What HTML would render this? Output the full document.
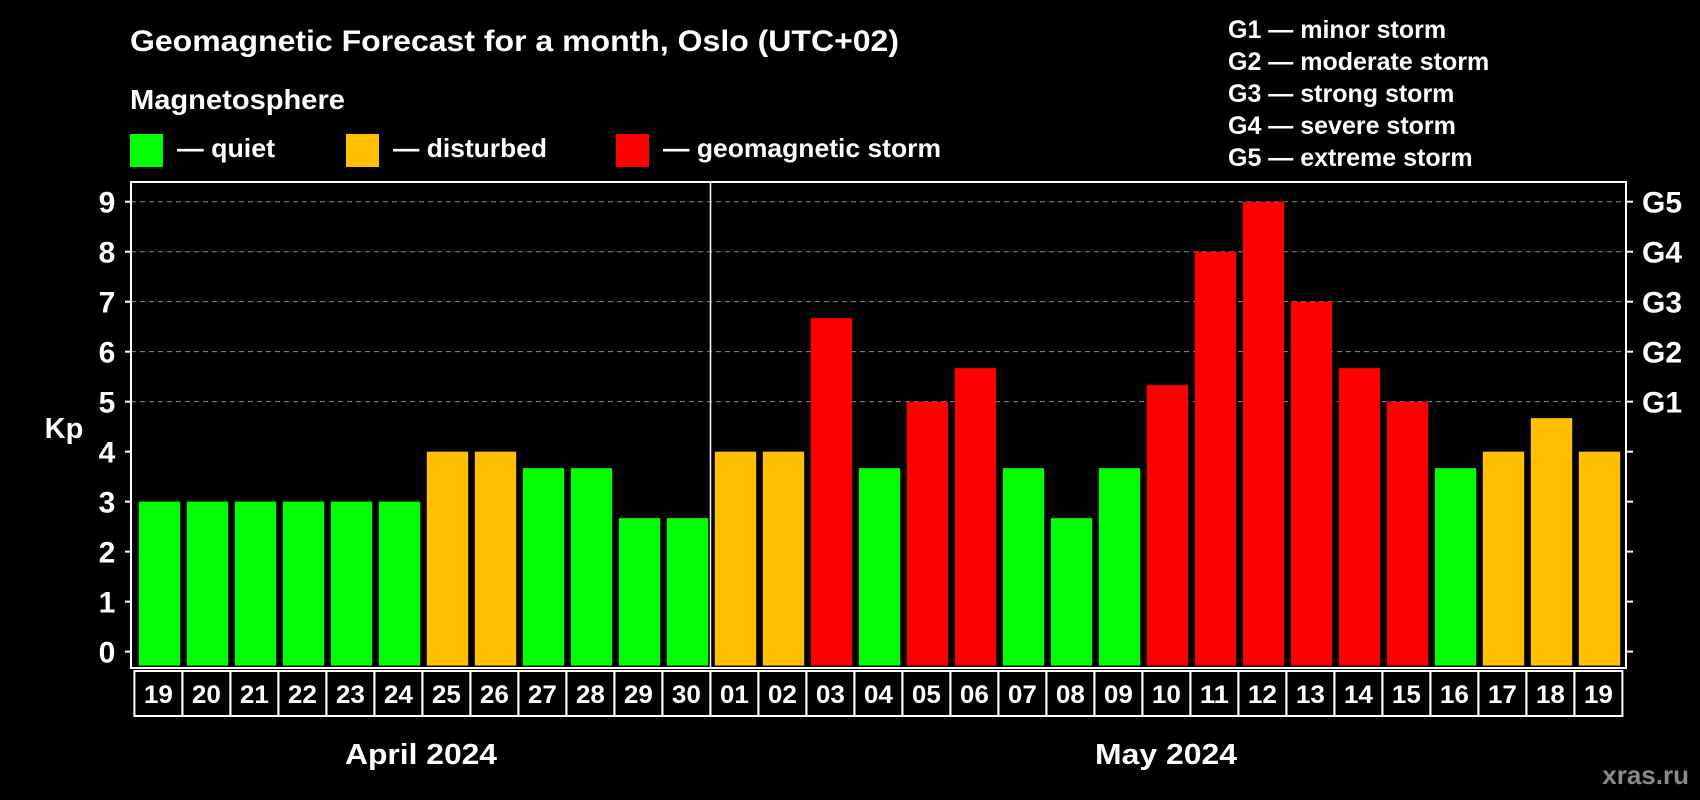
<!DOCTYPE html>
<html><head><meta charset="utf-8">
<style>
html,body{margin:0;padding:0;background:#000;}
svg{display:block;font-family:"Liberation Sans",sans-serif;font-weight:bold;}
</style></head>
<body>
<svg id="chart" width="1700" height="800" viewBox="0 0 1700 800" xmlns="http://www.w3.org/2000/svg">
<rect x="0" y="0" width="1700" height="800" fill="#000"/>
<text x="130" y="51" font-size="30" fill="#fff" textLength="769" lengthAdjust="spacingAndGlyphs">Geomagnetic Forecast for a month, Oslo (UTC+02)</text>
<text x="130" y="109" font-size="28" fill="#fff" textLength="215" lengthAdjust="spacingAndGlyphs">Magnetosphere</text>
<g>
<rect x="130" y="134" width="33" height="33" fill="#00ff00"/>
<text x="177" y="157" font-size="26" fill="#fff" textLength="98" lengthAdjust="spacingAndGlyphs">— quiet</text>
</g>
<g>
<rect x="346" y="134" width="33" height="33" fill="#ffc000"/>
<text x="393" y="157" font-size="26" fill="#fff" textLength="154" lengthAdjust="spacingAndGlyphs">— disturbed</text>
</g>
<g>
<rect x="616" y="134" width="33" height="33" fill="#ff0000"/>
<text x="663" y="157" font-size="26" fill="#fff" textLength="278" lengthAdjust="spacingAndGlyphs">— geomagnetic storm</text>
</g>
<g font-size="25" fill="#fff">
<text x="1228" y="38">G1 — minor storm</text>
<text x="1228" y="70">G2 — moderate storm</text>
<text x="1228" y="102">G3 — strong storm</text>
<text x="1228" y="134">G4 — severe storm</text>
<text x="1228" y="166">G5 — extreme storm</text>
</g>
<text x="64" y="438" font-size="29" fill="#fff" text-anchor="middle">Kp</text>
<text x="421" y="764" font-size="29" fill="#fff" text-anchor="middle" textLength="152" lengthAdjust="spacingAndGlyphs">April 2024</text>
<text x="1166" y="764" font-size="29" fill="#fff" text-anchor="middle" textLength="142" lengthAdjust="spacingAndGlyphs">May 2024</text>
<text x="1689" y="784" font-size="26" fill="#8a8a8a" text-anchor="end">xras.ru</text>
<g id="grid"></g>
<g id="bars"></g>
<g id="axes"></g>
</svg>
<script>
const days = ["19","20","21","22","23","24","25","26","27","28","29","30","01","02","03","04","05","06","07","08","09","10","11","12","13","14","15","16","17","18","19"];
const kpValues = [3,3,3,3,3,3,4,4,3.67,3.67,2.67,2.67,4,4,6.67,3.67,5,5.67,3.67,2.67,3.67,5.33,8,9,7,5.67,5,3.67,4,4.67,4];
const yTicks = [0,1,2,3,4,5,6,7,8,9];
const gLabels = ["G1","G2","G3","G4","G5"];
const gLevels = [5,6,7,8,9];

const NS = "http://www.w3.org/2000/svg";
const plotLeft = 131, plotRight = 1626, plotTop = 182, plotBottom = 668;
const yZero = 651.6, yNine = 201.7;
const firstX = 134.4, pitch = 48.0;
function yScale(v){ return yZero + (yNine - yZero) * v / 9; }
function xScale(i){ return firstX + i * pitch; }
function colorFor(v){ return v >= 5 ? "#ff0000" : (v >= 4 ? "#ffc000" : "#00ff00"); }
function mk(tag, attrs, parent){ const e = document.createElementNS(NS, tag); for (const k in attrs) e.setAttribute(k, attrs[k]); parent.appendChild(e); return e; }

const gridG = document.getElementById("grid");
const barsG = document.getElementById("bars");
const axesG = document.getElementById("axes");

gLevels.forEach((lv, i) => {
  const y = yScale(lv);
  const l = mk("line", {x1:plotLeft, x2:plotRight, y1:y, y2:y, stroke:"#8c8c8c", "stroke-width":1, "stroke-dasharray":"5,4"}, gridG);
  
  
  const t = mk("text", {x:1642, y:y+11, "font-size":30, fill:"#fff"}, axesG);
  t.textContent = gLabels[i];
  
  
});

kpValues.forEach((v, i) => {
  const x = xScale(i) + 4.4;
  const y = yScale(v);
  const r = mk("rect", {x:x, y:y, width:41.4, height:yZero + 14 - y, fill:colorFor(v)}, barsG);
  
  
});

yTicks.forEach(v => {
  const y = yScale(v);
  const tl = mk("line", {x1:125, x2:plotLeft, y1:y, y2:y, stroke:"#fff", "stroke-width":2}, axesG);
  
  
  const tr = mk("line", {x1:plotRight, x2:plotRight+7, y1:y, y2:y, stroke:"#fff", "stroke-width":2}, axesG);
  
  
  const t = mk("text", {x:107, y:y+11, "font-size":30, fill:"#fff", "text-anchor":"middle"}, axesG);
  t.textContent = String(v);
  
  
});

const frame = mk("rect", {x:plotLeft, y:plotTop, width:plotRight-plotLeft, height:plotBottom-plotTop, fill:"none", stroke:"#fff", "stroke-width":2}, axesG);


const divider = mk("line", {x1:710.5, x2:710.5, y1:plotTop, y2:plotBottom, stroke:"#fff", "stroke-width":1.5}, axesG);



days.forEach((d, i) => {
  const x = xScale(i);
  const c = mk("rect", {x:x, y:671, width:pitch, height:45, fill:"none", stroke:"#fff", "stroke-width":2}, axesG);
  
  
  const t = mk("text", {x:x + pitch/2, y:703, "font-size":25, fill:"#fff", "text-anchor":"middle", textLength:29, lengthAdjust:"spacingAndGlyphs"}, axesG);
  t.textContent = d;
  
  
});
</script>
</body></html>
